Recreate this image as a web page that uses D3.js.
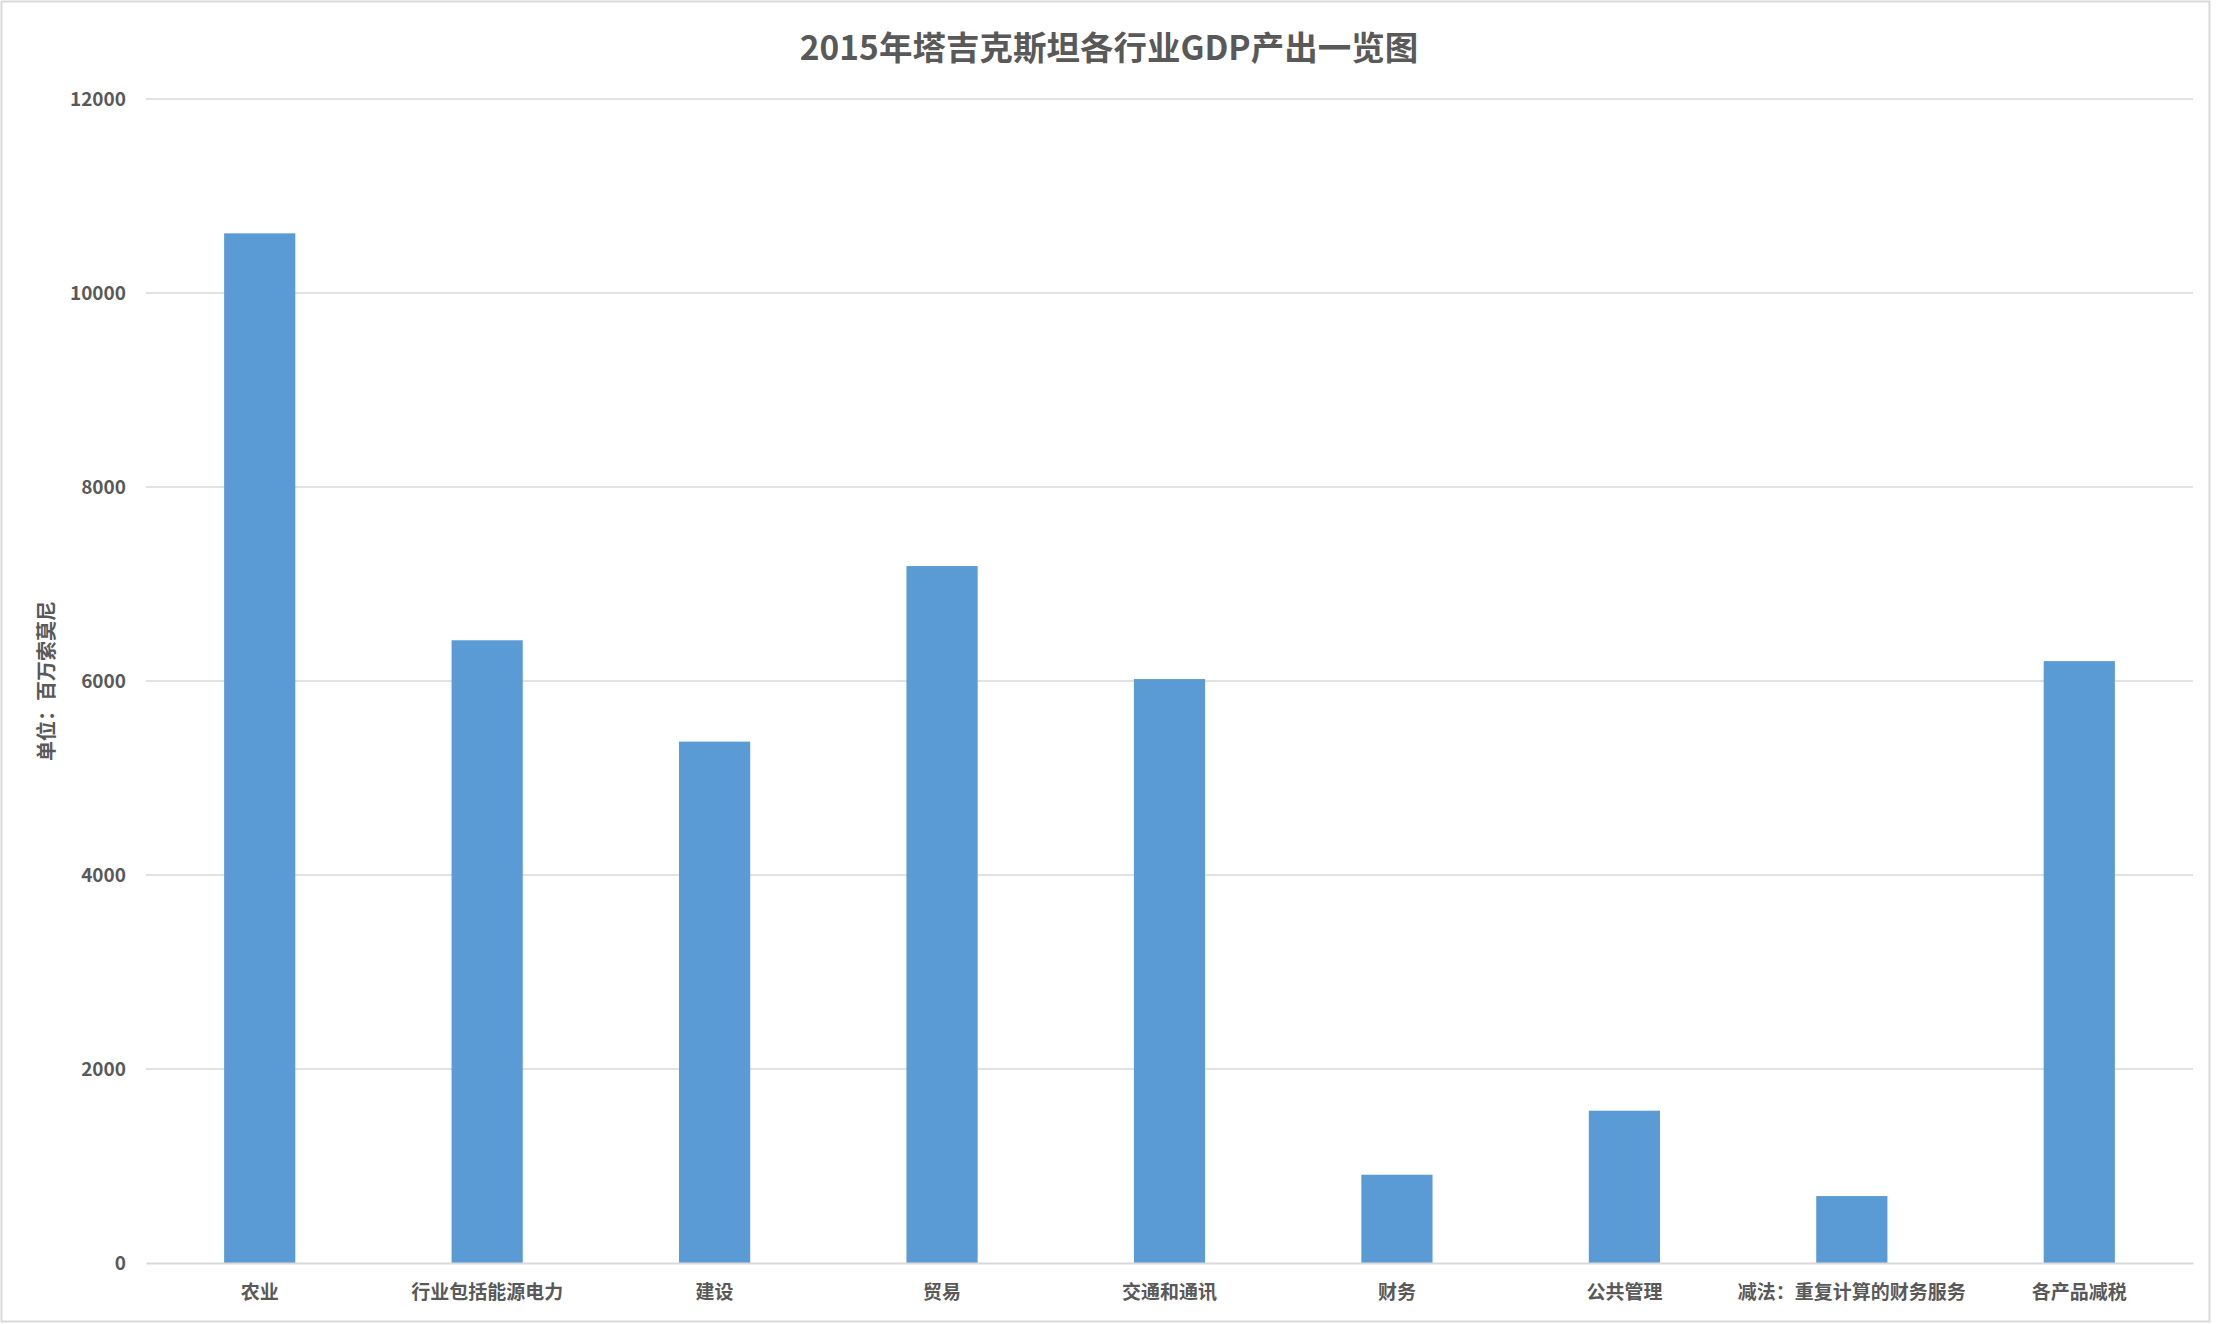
<!DOCTYPE html>
<html lang="zh">
<head>
<meta charset="UTF-8">
<title>2015年塔吉克斯坦各行业GDP产出一览图</title>
<script src="https://d3js.org/d3.v7.min.js"></script>
<style>
  html, body { margin: 0; padding: 0; background: #fff; }
  svg text { font-family: "Noto Sans CJK SC", "Noto Sans", sans-serif; fill: #595959; }
</style>
</head>
<body>
<div id="chart"></div>
<script>
// data
const categories = ["农业", "行业包括能源电力", "建设", "贸易", "交通和通讯", "财务", "公共管理", "减法：重复计算的财务服务", "各产品减税"];
const values = [10615, 6420, 5375, 7185, 6020, 910, 1570, 690, 6205];
const yTicks = [0, 2000, 4000, 6000, 8000, 10000, 12000];

const width = 2217;
const height = 1324;
const margin = { top: 99, right: 24, bottom: 61, left: 146 };

const svg = d3.select("#chart").append("svg")
    .attr("width", width)
    .attr("height", height);

// chart frame
svg.append("rect")
    .attr("x", 1.5).attr("y", 1.5)
    .attr("width", 2208).attr("height", 1320)
    .attr("fill", "#fff")
    .attr("stroke", "#d9d9d9")
    .attr("stroke-width", 2);

const x = d3.scaleBand()
    .domain(categories)
    .range([margin.left, width - margin.right])
    .paddingInner(0.687)
    .paddingOuter(0.3435);

const y = d3.scaleLinear()
    .domain([0, 12000])
    .range([height - margin.bottom, margin.top]);

// gridlines
svg.append("g")
    .selectAll("line")
    .data(yTicks.filter(d => d > 0))
    .join("line")
    .attr("x1", margin.left)
    .attr("x2", width - margin.right)
    .attr("y1", d => y(d))
    .attr("y2", d => y(d))
    .attr("stroke", "#d9d9d9")
    .attr("stroke-width", 1.5);

// y axis labels (no thousands separator, as in the original)
const yAxis = svg.append("g")
    .attr("transform", `translate(${margin.left - 20},0)`)
    .call(d3.axisLeft(y).tickValues(yTicks).tickFormat(d3.format("d")).tickSize(0).tickPadding(0));
yAxis.select(".domain").remove();
yAxis.selectAll("text")
    .attr("font-size", 19)
    .attr("font-weight", 600)
    .attr("fill", "#595959");

// bars
svg.append("g")
    .selectAll("rect")
    .data(values)
    .join("rect")
    .attr("x", (d, i) => x(categories[i]))
    .attr("width", x.bandwidth())
    .attr("y", d => y(d))
    .attr("height", d => y(0) - y(d))
    .attr("fill", "#5b9bd5");

// x axis
const xAxis = svg.append("g")
    .attr("transform", `translate(0,${y(0)})`)
    .call(d3.axisBottom(x).tickSize(0).tickPadding(23));
xAxis.select(".domain")
    .attr("stroke", "#d9d9d9")
    .attr("stroke-width", 2);
xAxis.selectAll("text")
    .attr("font-size", 19)
    .attr("font-weight", 600)
    .attr("fill", "#595959");

// title, centred on the whole chart area
svg.append("text")
    .attr("x", 1109)
    .attr("y", 45)
    .attr("text-anchor", "middle")
    .attr("dominant-baseline", "central")
    .attr("font-size", 33.5)
    .attr("font-weight", 700)
    .text("2015年塔吉克斯坦各行业GDP产出一览图");

// y axis title
svg.append("text")
    .attr("transform", `translate(45,${(y(0) + y(12000)) / 2}) rotate(-90)`)
    .attr("text-anchor", "middle")
    .attr("dominant-baseline", "central")
    .attr("font-size", 20)
    .attr("font-weight", 700)
    .text("单位：百万索莫尼");
</script>
</body>
</html>
